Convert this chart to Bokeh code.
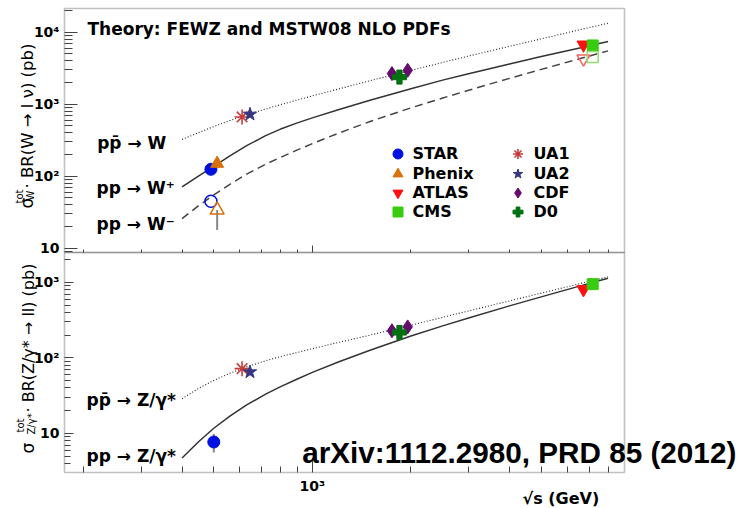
import math
from bokeh.plotting import figure
from bokeh.models import (Range1d, FixedTicker, Label, Legend, LegendItem, LogAxis,
                          LogScale, BoxAnnotation)
from bokeh.embed import file_html
from bokeh.resources import INLINE

# ---------------- data ----------------
THEORY_SQRTS = [400, 450, 500, 560, 630, 720, 800, 900, 1000, 1200, 1500, 2000, 2500, 3000, 4000, 5000, 6500, 8000]
W_PPBAR = [324, 404, 490, 593, 711, 859, 985, 1143, 1303, 1625, 2115, 2949, 3795, 4655, 6360, 8070, 10700, 13300]
W_PLUS = [71.3, 101, 137, 192, 266, 366, 452, 551, 646, 836, 1132, 1644, 2158, 2645, 3612, 4580, 6000, 7430]
W_MINUS = [25.9, 39.2, 55.2, 77.4, 107, 147, 183, 232, 284, 395, 576, 891, 1218, 1563, 2285, 3044, 4240, 5495]
Z_PPBAR = [28.8, 39.6, 50.3, 62.5, 76.0, 91.6, 104, 118, 132, 160, 200, 270, 344, 418, 567, 719, 949, 1183]
Z_PP = [4.73, 7.82, 11.7, 16.9, 23.8, 33.1, 41.6, 52.6, 64.2, 88.3, 126, 195, 265, 337, 488, 642, 883, 1130]

STAR_SQRTS = [490]
STAR_WP = [125]
STAR_WM = [45]
STAR_Z_SQRTS = [500]
STAR_Z = [7.7]
STAR_Z_LO = [5.6]
STAR_Z_HI = [9.8]

PHENIX_SQRTS = [512]
PHENIX_WP = [150]
PHENIX_WM = [34]
PHENIX_WM_LO = [18]

UA1_SQRTS = [610]
UA1_W = [665]
UA1_Z = [72]
UA2_SQRTS = [645]
UA2_W = [724]
UA2_Z = [65]

CDF_SQRTS = [1750, 1955]
CDF_W = [2660, 2950]
CDF_Z = [228, 257]
D0_SQRTS = [1845]
D0_W = [2380]
D0_Z = [217]

ATLAS_SQRTS = [6730]
ATLAS_WP = [6680]
ATLAS_WM = [4290]
ATLAS_Z = [805]
CMS_SQRTS = [7180]
CMS_WP = [6540]
CMS_WM = [4510]
CMS_Z = [946]

# axis extents (data units) of the two panels
X_LO, X_HI = 175, 8980
YW_LO, YW_HI = 8.75, 21300
YZ_LO, YZ_HI = 3.04, 2480

X_MAJOR = [1000]
X_MINOR = [200, 300, 400, 500, 600, 700, 800, 900, 2000, 3000, 4000, 5000, 6000, 7000, 8000]
YW_MAJOR = [10, 100, 1000, 10000]
YZ_MAJOR = [10, 100, 1000]
YW_LABELS = {10: "10", 100: "10²", 1000: "10³", 10000: "10⁴"}
YZ_LABELS = {10: "10", 100: "10²", 1000: "10³"}
X_LABELS = {1000: "10³"}

# ---------------- layout (pixels) ----------------
W, H = 738, 508
PX_L, PX_R = 64, 624          # panel left / right
PX_WT, PX_WB = 8, 252         # W panel top / bottom
PX_ZT, PX_ZB = 252, 472       # Z panel top / bottom


def canvas_range(v_a, px_a, v_b, px_b, px_start, px_end):
    la, lb = math.log10(v_a), math.log10(v_b)
    k = (lb - la) / (px_b - px_a)
    return Range1d(10 ** (la + (px_start - px_a) * k), 10 ** (la + (px_end - px_a) * k))


def minors(lo, hi):
    out = []
    for e in range(-1, 6):
        for m in range(2, 10):
            v = m * 10 ** e
            if lo <= v <= hi:
                out.append(v)
    return out


BLUE = "#0010e0"
ORANGE = "#d8700c"
RED = "#ff1010"
GREEN = "#38cc10"
UA1C = "#c83c3c"
UA2C = "#363680"
CDFC = "#660a6e"
D0C = "#007010"
FONT = "DejaVu Sans"
FRAME = "#333333"
TICK = "#444444"

p = figure(width=W, height=H, x_axis_type="log", y_axis_type="log",
           x_axis_location=None, y_axis_location=None,
           x_range=canvas_range(X_LO, PX_L, X_HI, PX_R, 0, W),
           y_range=canvas_range(YW_LO, PX_WB, YW_HI, PX_WT, H, 0),
           min_border=0, title=None, output_backend="svg", toolbar_location=None)
p.extra_y_ranges = {"z": canvas_range(YZ_LO, PX_ZB, YZ_HI, PX_ZT, H, 0)}
p.extra_y_scales = {"z": LogScale()}
p.grid.visible = False
p.outline_line_color = None
p.background_fill_color = "white"
p.border_fill_color = "white"


def y_axis(rng, lo, hi, major, labels, t_maj, t_min):
    ax = LogAxis(y_range_name=rng, fixed_location=X_LO, bounds=(lo, hi),
                 ticker=FixedTicker(ticks=major, minor_ticks=minors(lo, hi)))
    ax.major_label_overrides = labels
    ax.axis_line_color = None
    ax.major_tick_in = t_maj
    ax.major_tick_out = 0
    ax.minor_tick_in = t_min
    ax.minor_tick_out = 0
    ax.major_tick_line_color = TICK
    ax.minor_tick_line_color = TICK
    ax.major_label_text_font = FONT
    ax.major_label_text_font_style = "bold"
    ax.major_label_text_font_size = "14px"
    ax.major_label_text_color = "black"
    ax.major_label_standoff = 5
    p.add_layout(ax, "left")


def x_axis(rng, loc, t_maj, t_min, labels):
    ax = LogAxis(y_range_name=rng, fixed_location=loc, bounds=(X_LO, X_HI),
                 ticker=FixedTicker(ticks=X_MAJOR, minor_ticks=X_MINOR))
    ax.major_label_overrides = labels
    ax.axis_line_color = None
    ax.major_tick_in = t_maj
    ax.major_tick_out = 0
    ax.minor_tick_in = t_min
    ax.minor_tick_out = 0
    ax.major_tick_line_color = TICK
    ax.minor_tick_line_color = TICK
    ax.major_label_text_font = FONT
    ax.major_label_text_font_style = "bold"
    ax.major_label_text_font_size = "14px"
    ax.major_label_text_color = "black"
    ax.major_label_standoff = 5
    p.add_layout(ax, "below")


y_axis("default", YW_LO, YW_HI, YW_MAJOR, YW_LABELS, 13, 8)
y_axis("z", YZ_LO, YZ_HI, YZ_MAJOR, YZ_LABELS, 9, 6)
x_axis("default", YW_LO, 7, 3, {1000: ""})
x_axis("z", YZ_LO, 14, 6, X_LABELS)

for rng, lo, hi in (("default", YW_LO, YW_HI), ("z", YZ_LO, YZ_HI)):
    p.add_layout(BoxAnnotation(left=X_LO, right=X_HI, bottom=lo, top=hi, y_range_name=rng,
                               fill_alpha=0, line_color=FRAME, line_width=1.6))

# ---------------- W panel ----------------
p.line(THEORY_SQRTS, W_PPBAR, line_color="#222222", line_width=1.1, line_dash="1 2")
p.line(THEORY_SQRTS, W_PLUS, line_color="#333333", line_width=1.5)
p.line(THEORY_SQRTS, W_MINUS, line_color="#444444", line_width=1.5, line_dash="8 5")

p.segment(x0=PHENIX_SQRTS, y0=PHENIX_WM_LO, x1=PHENIX_SQRTS, y1=PHENIX_WM,
          line_color="#888888", line_width=2)

r_star = p.scatter(STAR_SQRTS, STAR_WP, marker="circle", size=12, fill_color=BLUE, line_color=BLUE)
p.scatter(STAR_SQRTS, STAR_WM, marker="circle", size=12, fill_alpha=0, line_color=BLUE, line_width=1.5)
r_phx = p.scatter(PHENIX_SQRTS, PHENIX_WP, marker="triangle", size=13, fill_color=ORANGE, line_color=ORANGE)
p.scatter(PHENIX_SQRTS, PHENIX_WM, marker="triangle", size=14, fill_alpha=0, line_color=ORANGE, line_width=1.5)
r_ua1 = p.scatter(UA1_SQRTS, UA1_W, marker="asterisk", size=15, line_color=UA1C, line_width=1.6)
r_ua2 = p.scatter(UA2_SQRTS, UA2_W, marker="star", size=14, fill_color=UA2C, line_color=UA2C)
r_cdf = p.scatter(CDF_SQRTS, CDF_W, marker="diamond", size=14, fill_color=CDFC, line_color=CDFC)
r_d0 = p.scatter(D0_SQRTS, D0_W, marker="plus", size=14, fill_color=D0C, line_color=D0C)
r_atl = p.scatter(ATLAS_SQRTS, ATLAS_WP, marker="inverted_triangle", size=13, fill_color=RED, line_color=RED)
p.scatter(ATLAS_SQRTS, ATLAS_WM, marker="inverted_triangle", size=13, fill_alpha=0, line_color="#ff6060", line_width=1.5)
r_cms = p.scatter(CMS_SQRTS, CMS_WP, marker="square", size=11, fill_color=GREEN, line_color=GREEN)
p.scatter(CMS_SQRTS, CMS_WM, marker="square", size=11, fill_alpha=0, line_color="#90dd70", line_width=1.5)

# ---------------- Z panel ----------------
p.line(THEORY_SQRTS, Z_PPBAR, y_range_name="z", line_color="#222222", line_width=1.1, line_dash="1 2")
p.line(THEORY_SQRTS, Z_PP, y_range_name="z", line_color="#333333", line_width=1.5)
p.segment(x0=STAR_Z_SQRTS, y0=STAR_Z_LO, x1=STAR_Z_SQRTS, y1=STAR_Z_HI, y_range_name="z",
          line_color="#888888", line_width=2)
p.scatter(STAR_Z_SQRTS, STAR_Z, y_range_name="z", marker="circle", size=12, fill_color=BLUE, line_color=BLUE)
p.scatter(UA1_SQRTS, UA1_Z, y_range_name="z", marker="asterisk", size=15, line_color=UA1C, line_width=1.6)
p.scatter(UA2_SQRTS, UA2_Z, y_range_name="z", marker="star", size=14, fill_color=UA2C, line_color=UA2C)
p.scatter(CDF_SQRTS, CDF_Z, y_range_name="z", marker="diamond", size=14, fill_color=CDFC, line_color=CDFC)
p.scatter(D0_SQRTS, D0_Z, y_range_name="z", marker="plus", size=14, fill_color=D0C, line_color=D0C)
p.scatter(ATLAS_SQRTS, ATLAS_Z, y_range_name="z", marker="inverted_triangle", size=13, fill_color=RED, line_color=RED)
p.scatter(CMS_SQRTS, CMS_Z, y_range_name="z", marker="square", size=11, fill_color=GREEN, line_color=GREEN)


# ---------------- legend: one single-row legend per entry ----------------
LEGEND_ROWS = [153.5, 173, 192.5, 211.5]       # row centres, px from top
LEGEND_COLS = [(384.5, 3), (504.5, 4)]         # glyph-box left, label standoff
LEGEND_ENTRIES = [[("STAR", r_star), ("Phenix", r_phx), ("ATLAS", r_atl), ("CMS", r_cms)],
                  [("UA1", r_ua1), ("UA2", r_ua2), ("CDF", r_cdf), ("D0", r_d0)]]
BOX = 25
for (lx, standoff), entries in zip(LEGEND_COLS, LEGEND_ENTRIES):
    for row_c, (text, rend) in zip(LEGEND_ROWS, entries):
        lg = Legend(items=[LegendItem(label=text, renderers=[rend])],
                    location=(lx, H - row_c - BOX / 2))
        lg.background_fill_alpha = 0
        lg.border_line_alpha = 0
        lg.padding = 0
        lg.margin = 0
        lg.spacing = 0
        lg.glyph_width = BOX
        lg.glyph_height = BOX
        lg.label_height = BOX
        lg.label_standoff = standoff
        lg.label_text_font = FONT
        lg.label_text_font_style = "bold"
        lg.label_text_font_size = "16px"
        lg.label_text_color = "black"
        p.add_layout(lg, "center")


# ---------------- texts (canvas pixel positions, y from top; anchor = text middle) ----------------
def lab(x, y, text, size, bold=True, angle=0.0, font=FONT):
    p.add_layout(Label(x=x, y=H - y, x_units="screen", y_units="screen", text=text,
                       text_font=font, text_font_size=size,
                       text_font_style="bold" if bold else "normal",
                       text_color="black", text_baseline="middle",
                       text_align="left", angle=angle))


lab(87, 28, "Theory: FEWZ and MSTW08 NLO PDFs", "17px")
lab(96.7, 142.8, "pp̄ → W", "17px")
lab(96, 187.1, "pp → W⁺", "17px")
lab(96, 223.8, "pp → W⁻", "17px")
lab(86, 399.8, "pp̄ → Z/γ*", "17px")
lab(86, 455.5, "pp → Z/γ*", "17px")
lab(301.7, 452, "arXiv:1112.2980, PRD  85 (2012)", "29.7px", font="Liberation Sans")
lab(522, 498, "√s  (GeV)", "16px")

A = math.pi / 2
lab(26.5, 208, "σ", "17px", bold=False, angle=A)
lab(19, 203, "tot", "10px", bold=False, angle=A)
lab(30, 200, "W", "10px", bold=False, angle=A)
lab(26.5, 188, "· BR(W → l ν)  (pb)", "16.5px", bold=False, angle=A)

lab(27, 453, "σ", "17px", bold=False, angle=A)
lab(20, 432, "tot", "10px", bold=False, angle=A)
lab(30.5, 434, "Z/γ*", "10px", bold=False, angle=A)
lab(28, 412, "· BR(Z/γ* → ll)  (pb)", "16px", bold=False, angle=A)

open("out.html", "w").write(file_html(p, INLINE))
